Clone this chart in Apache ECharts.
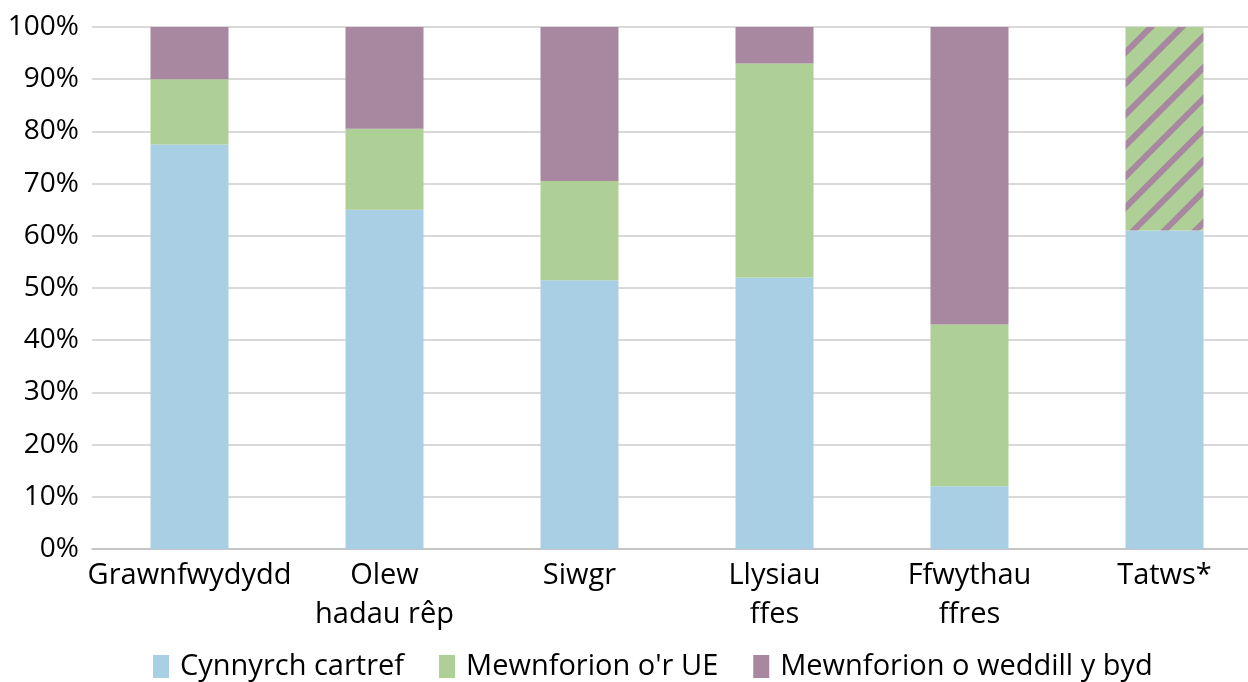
<!DOCTYPE html>
<html><head><meta charset="utf-8">
<script src="https://cdn.jsdelivr.net/npm/echarts@6/dist/echarts.min.js"></script>
<style>html,body{margin:0;padding:0;background:#fff}#c{width:1248px;height:682px}</style>
</head><body><div id="c"></div>
<script>
const categories = ['Grawnfwydydd', 'Olew\nhadau rêp', 'Siwgr', 'Llysiau\nffes', 'Ffwythau\nffres', 'Tatws*'];
const seriesNames = ['Cynnyrch cartref', "Mewnforion o'r UE", 'Mewnforion o weddill y byd'];
const homeValues = [77.5, 65, 51.5, 52, 12, 61];
const euValues = [12.5, 15.5, 19, 41, 31, 39];
const worldValues = [10, 19.5, 29.5, 7, 57, 0];
const hatchedIndex = 5;
const yTicks = [0, 10, 20, 30, 40, 50, 60, 70, 80, 90, 100];

const colors = ['#a9cfe5', '#aecf96', '#a888a0'];
const font = '"Open Sans", sans-serif';

function makePattern() {
  const s = 31;
  const cv = document.createElement('canvas');
  cv.width = s; cv.height = s;
  const ctx = cv.getContext('2d');
  ctx.fillStyle = colors[1];
  ctx.fillRect(0, 0, s, s);
  ctx.strokeStyle = colors[2];
  ctx.lineWidth = 6;
  ctx.beginPath();
  ctx.moveTo(-s, 2 * s); ctx.lineTo(2 * s, -s);
  ctx.moveTo(-2 * s, 2 * s); ctx.lineTo(s, -s);
  ctx.moveTo(0, 2 * s); ctx.lineTo(3 * s, -s);
  ctx.stroke();
  return cv;
}
const pattern = makePattern();

const chart = echarts.init(document.getElementById('c'));
chart.setOption({
  animation: false,
  textStyle: { fontFamily: font },
  grid: { left: 92, width: 1170, top: 27, bottom: 133, containLabel: false, outerBoundsMode: 'none' },
  legend: {
    bottom: -4, left: 148,
    itemWidth: 16, itemHeight: 23, itemGap: 35,
    textStyle: { fontSize: 29, color: '#000', fontFamily: font, padding: [0, 0, 0, 6] },
    data: seriesNames.map((n, i) => ({ name: n, icon: 'rect', itemStyle: { color: colors[i] } }))
  },
  xAxis: {
    type: 'category', data: categories,
    axisTick: { show: false },
    axisLine: { lineStyle: { color: '#bfbfbf', width: 1.5 } },
    axisLabel: { fontSize: 29, color: '#000', lineHeight: 39, margin: 7, interval: 0 }
  },
  yAxis: {
    type: 'value', min: 0, max: 100, interval: 10,
    axisLabel: { fontSize: 28, color: '#000', formatter: v => v + '%', margin: 13 },
    splitLine: { lineStyle: { color: '#d9d9d9', width: 2 } },
    axisLine: { show: false }, axisTick: { show: false }
  },
  series: [
    { name: seriesNames[0], type: 'bar', stack: 's', barWidth: 78, data: homeValues, itemStyle: { color: colors[0] } },
    { name: seriesNames[1], type: 'bar', stack: 's', barWidth: 78,
      data: euValues.map((v, i) => i === hatchedIndex ? { value: v, itemStyle: { color: { image: pattern, repeat: 'repeat' } } } : v),
      itemStyle: { color: colors[1] } },
    { name: seriesNames[2], type: 'bar', stack: 's', barWidth: 78, data: worldValues, itemStyle: { color: colors[2] } }
  ]
});
</script></body></html>
